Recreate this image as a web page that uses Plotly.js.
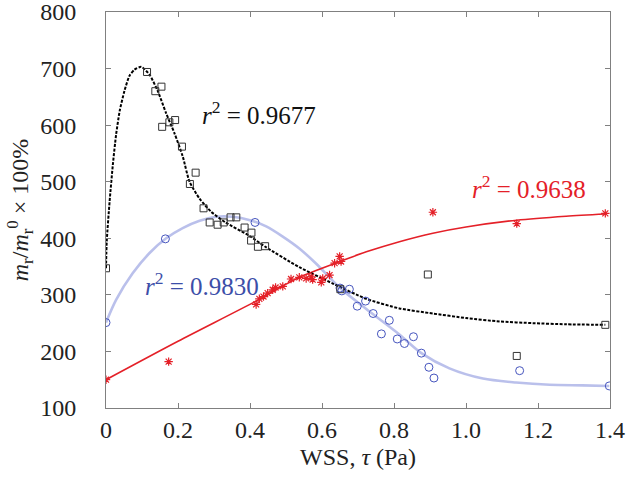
<!DOCTYPE html>
<html>
<head>
<meta charset="utf-8">
<script src="https://cdn.plot.ly/plotly-3.0.1.min.js"></script>
<style>html,body{margin:0;padding:0;background:#fff;}#chart{width:626px;height:479px;}</style>
</head>
<body>
<div id="chart"></div>
<script>
// Black squares (measured data)
const sqX = [0, 0.114, 0.137, 0.154, 0.156, 0.176, 0.192, 0.211, 0.233, 0.249, 0.271, 0.288, 0.31, 0.327, 0.346, 0.362, 0.385, 0.404, 0.403, 0.422, 0.442, 0.651, 0.894, 1.141, 1.387];
const sqY = [347, 694, 660, 668, 597, 605, 609, 562, 496, 516, 453, 428, 424, 428, 437, 437, 419, 410, 396, 385, 386, 310, 336, 192, 247];
// Black fitted curve
const fitBX = [0, 0.002, 0.01, 0.019, 0.028, 0.038, 0.051, 0.065, 0.079, 0.098, 0.121, 0.144, 0.167, 0.19, 0.213, 0.232, 0.26, 0.292, 0.332, 0.399, 0.445, 0.537, 0.63, 0.723, 0.815, 0.908, 1.0, 1.093, 1.186, 1.278, 1.387];
const fitBY = [347, 394, 465, 530, 583, 625, 660, 687, 698, 703, 689, 660, 621, 586, 545, 500, 470, 447, 428, 404, 384, 349, 320, 293, 276, 267, 259, 253, 250, 248, 247];
// Blue circles
const ciX = [0, 0.165, 0.414, 0.65, 0.655, 0.676, 0.698, 0.721, 0.742, 0.765, 0.787, 0.809, 0.829, 0.854, 0.876, 0.897, 0.911, 1.149, 1.398];
const ciY = [251, 399, 428, 312, 307, 310, 280, 289, 267, 231, 255, 222, 214, 226, 197, 172, 153, 166, 139];
// Blue fitted curve
const fitCX = [0, 0.028, 0.074, 0.121, 0.167, 0.213, 0.26, 0.306, 0.352, 0.4, 0.445, 0.491, 0.537, 0.584, 0.65, 0.723, 0.815, 0.876, 0.954, 1.047, 1.139, 1.232, 1.324, 1.398];
const fitCY = [251, 291, 338, 374, 400, 418, 431, 438, 438, 432, 421, 403, 382, 355, 312, 275, 230, 197, 170, 152, 145, 141, 140, 139];
// Red stars
const stX = [0, 0.174, 0.417, 0.426, 0.4375, 0.449, 0.463, 0.471, 0.491, 0.514, 0.537, 0.556, 0.57, 0.574, 0.598, 0.602, 0.621, 0.635, 0.649, 0.653, 0.908, 1.141, 1.387];
const stY = [150, 182, 283, 293, 297, 303, 309, 313, 315, 328, 331, 329, 332, 327, 322, 329, 335, 356, 368, 359, 446, 426, 444];
// Red fitted curve
const fitRX = [0, 0.2, 0.414, 0.537, 0.65, 0.723, 0.815, 0.908, 1.0, 1.141, 1.278, 1.387];
const fitRY = [150, 218, 288, 331, 359, 376, 394, 409, 420, 432, 439, 443];
// Tick labels
const xTickVals = [0, 0.2, 0.4, 0.6, 0.8, 1.0, 1.2, 1.4];
const xTickText = ['0', '0.2', '0.4', '0.6', '0.8', '1.0', '1.2', '1.4'];
const yTickVals = [100, 200, 300, 400, 500, 600, 700, 800];
const yTickText = ['100', '200', '300', '400', '500', '600', '700', '800'];
// Annotations
const r2Text = ['0.9677', '0.9830', '0.9638'];

const FONT = 'Liberation Serif';
const black = '#111111', blue = 'rgb(60,78,168)', red = 'rgb(228,32,40)';

const traces = [
  {x: fitCX, y: fitCY, mode: 'lines', line: {color: 'rgba(140,150,222,0.6)', width: 2.6, shape: 'spline', smoothing: 0.8}, hoverinfo: 'skip'},
  {x: fitRX, y: fitRY, mode: 'lines', line: {color: red, width: 1.6, shape: 'spline', smoothing: 0.8}, hoverinfo: 'skip'},
  {x: fitBX, y: fitBY, mode: 'lines', line: {color: '#000', width: 2, dash: '3px,1.5px', shape: 'spline', smoothing: 0.6}, hoverinfo: 'skip'},
  {x: ciX, y: ciY, mode: 'markers', marker: {symbol: 'circle-open', size: 8, color: 'rgb(70,85,190)', line: {width: 1}}},
  {x: sqX, y: sqY, mode: 'markers', marker: {symbol: 'square-open', size: 7, color: '#333', line: {width: 1}}},
  {x: stX, y: stY, mode: 'markers', marker: {symbol: 'asterisk-open', size: 7, color: red, line: {width: 1.2, color: red}}}
];

const axisCommon = {
  showline: true, linecolor: '#808080', linewidth: 1, mirror: 'ticks',
  ticks: 'inside', ticklen: 5, tickcolor: '#808080', showgrid: false, zeroline: false,
  ticklabeloverflow: 'allow',
  tickfont: {family: FONT, size: 24, color: '#222'}
};

const layout = {
  width: 626, height: 479,
  margin: {l: 106, r: 16, t: 12, b: 71},
  paper_bgcolor: '#fff', plot_bgcolor: '#fff',
  showlegend: false,
  font: {family: FONT},
  xaxis: Object.assign({}, axisCommon, {
    range: [0, 1.4], tickvals: xTickVals, ticktext: xTickText,
    title: {text: 'WSS, <i>τ</i> (Pa)', font: {family: FONT, size: 24, color: '#222'}, standoff: 6}
  }),
  yaxis: Object.assign({}, axisCommon, {
    range: [100, 800], tickvals: yTickVals, ticktext: yTickText, ticklabelstandoff: 24,
    title: {text: '<i>m</i><sub>r</sub>/<i>m</i><sub>r</sub><sup>0</sup> × 100%', font: {family: FONT, size: 24, color: '#222'}, standoff: 4}
  }),
  annotations: [
    {x: 0.424, y: 622, xref: 'x', yref: 'y', text: '<i>r</i><sup>2</sup> = ' + r2Text[0], showarrow: false, font: {family: FONT, size: 25, color: black}},
    {x: 0.267, y: 320, xref: 'x', yref: 'y', text: '<i>r</i><sup>2</sup> = ' + r2Text[1], showarrow: false, font: {family: FONT, size: 25, color: blue}},
    {x: 1.176, y: 490, xref: 'x', yref: 'y', text: '<i>r</i><sup>2</sup> = ' + r2Text[2], showarrow: false, font: {family: FONT, size: 25, color: red}}
  ]
};

Plotly.newPlot('chart', traces, layout, {displayModeBar: false, staticPlot: true});
</script>
</body>
</html>
